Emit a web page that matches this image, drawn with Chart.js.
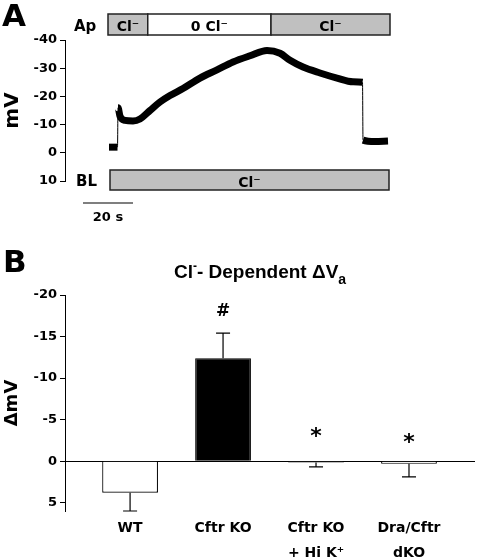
<!DOCTYPE html>
<html>
<head>
<meta charset="utf-8">
<script src="https://cdn.jsdelivr.net/npm/chart.js@4"></script>
<style>
  body { margin: 0; background: #fff; }
  #wrap { position: relative; width: 477px; height: 559px; }
  #trace { position: absolute; left: 0; top: 0; }
  #bars { position: absolute; left: 0; top: 230px; }
</style>
</head>
<body>
<div id="wrap">
  <canvas id="trace" width="477" height="230"></canvas>
  <canvas id="bars" width="477" height="329"></canvas>
</div>
<script>
// ---- panel A: voltage trace (time in s, potential in mV) ----
const traceTime = [-0.4, 3.0, 3.2, 4, 6, 9.2, 12, 16, 20, 24, 29.2, 36, 42.8, 49.2, 56, 62.8, 68, 72, 77.2, 84, 90.8, 97.2, 101, 101.2, 106, 111.2];
const traceMv   = [-2, -2, -16, -13, -11.5, -11.3, -12, -15, -18, -20.3, -22.8, -26.5, -29.4, -32.2, -34.4, -36.3, -35.3, -32.8, -30.4, -28.3, -26.5, -25.2, -25, -4.5, -4, -4.2];
const traceTicks = [-40, -30, -20, -10, 0, 10];

// solution changes (edges in s)
const apEdges  = [-0.8, 15.1, 64.4, 112];
const apLabels = ['Cl⁻', '0 Cl⁻', 'Cl⁻'];
const blEdges  = [0, 111.6];
const blLabels = ['Cl⁻'];
const scaleBarStart = -10.8;
const scaleBarSec = 20;

// ---- panel B: Cl- dependent change in Va ----
const groups   = [['WT'], ['Cftr KO'], ['Cftr KO', '+ Hi K⁺'], ['Dra/Cftr', 'dKO']];
const deltaMv  = [3.8, -12.4, 0.15, 0.3];
const deltaSem = [2.2, 3.0, 0.55, 1.6];
const sigMarks = ['', '#', '*', '*'];
const sigAt    = [null, -18.2, -3.45, -2.75];
const deltaTicks = [-20, -15, -10, -5, 0, 5];

Chart.defaults.font.family = 'DejaVu Sans';
Chart.defaults.font.weight = 'bold';
Chart.defaults.color = '#000';

function textCentered(ctx, txt, x, y) {
    const m = ctx.measureText(txt);
    ctx.fillText(txt, x, y + (m.actualBoundingBoxAscent - m.actualBoundingBoxDescent) / 2);
}

const traceExtras = {
    id: 'traceExtras',
    afterDraw(chart) {
        const ctx = chart.ctx;
        const xs = chart.scales.x;
        ctx.save();
        ctx.fillStyle = '#000';
        ctx.textBaseline = 'alphabetic';

        ctx.font = 'bold 31px "DejaVu Sans"';
        ctx.textAlign = 'left';
        ctx.fillText('A', 2, 26);

        ctx.font = 'bold 15px "DejaVu Sans"';
        ctx.fillText('Ap', 74, 31);
        ctx.fillText('BL', 76, 185.5);

        const drawBar = (edges, labels, top, bottom) => {
            for (let i = 0; i < labels.length; i++) {
                const x0 = xs.getPixelForValue(edges[i]);
                const x1 = xs.getPixelForValue(edges[i + 1]);
                ctx.fillStyle = labels[i].startsWith('0') ? '#fff' : '#c0c0c0';
                ctx.fillRect(x0, top, x1 - x0, bottom - top);
                ctx.strokeStyle = '#222';
                ctx.lineWidth = 1.5;
                ctx.strokeRect(x0, top, x1 - x0, bottom - top);
                ctx.fillStyle = '#000';
                ctx.font = 'bold 14px "DejaVu Sans"';
                ctx.textAlign = 'center';
                textCentered(ctx, labels[i], (x0 + x1) / 2, (top + bottom) / 2 + 1);
            }
        };
        drawBar(apEdges, apLabels, 14, 35);
        drawBar(blEdges, blLabels, 170, 190);

        // time scale bar
        const s0 = xs.getPixelForValue(scaleBarStart);
        const s1 = xs.getPixelForValue(scaleBarStart + scaleBarSec);
        ctx.strokeStyle = '#000';
        ctx.lineWidth = 1.2;
        ctx.beginPath();
        ctx.moveTo(s0, 203);
        ctx.lineTo(s1, 203);
        ctx.stroke();
        ctx.font = 'bold 13px "DejaVu Sans"';
        ctx.textAlign = 'center';
        textCentered(ctx, scaleBarSec + ' s', (s0 + s1) / 2, 216);
        ctx.restore();
    }
};

new Chart(document.getElementById('trace'), {
    type: 'line',
    data: {
        datasets: [{
            data: traceTime.map((t, i) => ({ x: t, y: traceMv[i] })),
            borderColor: '#000',
            borderWidth: 7,
            borderCapStyle: 'butt',
            borderJoinStyle: 'round',
            pointRadius: 0,
            cubicInterpolationMode: 'monotone',
            segment: {
                borderWidth: ctx => Math.abs(ctx.p1.parsed.y - ctx.p0.parsed.y) > 10 ? 1 : 7
            }
        }]
    },
    options: {
        responsive: false,
        animation: false,
        layout: { padding: { top: 40, bottom: 49, left: 0, right: 47 } },
        plugins: { legend: { display: false }, tooltip: { enabled: false } },
        scales: {
            x: { type: 'linear', min: -18, max: 128, display: false },
            y: {
                min: -40,
                max: 10,
                reverse: true,
                afterFit: axis => { axis.width = 65; },
                afterBuildTicks: axis => { axis.ticks = traceTicks.map(v => ({ value: v })); },
                ticks: { font: { size: 13 }, padding: 3 },
                grid: { drawOnChartArea: false, tickLength: 5, tickColor: '#000' },
                border: { color: '#000', width: 1 },
                title: { display: true, text: 'mV', font: { size: 20 }, padding: { top: 1, bottom: 0 } }
            }
        }
    },
    plugins: [traceExtras]
});

const barExtras = {
    id: 'barExtras',
    afterDraw(chart) {
        const ctx = chart.ctx;
        const xs = chart.scales.x;
        const ys = chart.scales.y;
        ctx.save();
        ctx.fillStyle = '#000';
        ctx.textBaseline = 'alphabetic';
        ctx.font = 'bold 31px "DejaVu Sans"';
        ctx.textAlign = 'left';
        ctx.fillText('B', 3, 42);

        // title with superscript and subscript
        const main = '- Dependent ΔV';
        ctx.font = 'bold 19px "Liberation Sans"';
        const w0 = ctx.measureText('Cl').width;
        const w2 = ctx.measureText(main).width;
        ctx.font = 'bold 12px "Liberation Sans"';
        const w1 = ctx.measureText('-').width;
        ctx.font = 'bold 14px "Liberation Sans"';
        const w3 = ctx.measureText('a').width;
        let x = 260 - (w0 + w1 + w2 + w3) / 2;
        ctx.font = 'bold 19px "Liberation Sans"';
        ctx.fillText('Cl', x, 48); x += w0;
        ctx.font = 'bold 12px "Liberation Sans"';
        ctx.fillText('-', x, 40); x += w1;
        ctx.font = 'bold 19px "Liberation Sans"';
        ctx.fillText(main, x, 48); x += w2;
        ctx.font = 'bold 14px "Liberation Sans"';
        ctx.fillText('a', x, 54);

        // error bars
        ctx.strokeStyle = '#000';
        ctx.lineWidth = 1.2;
        deltaMv.forEach((v, i) => {
            const cx = xs.getPixelForValue(i);
            const y0 = ys.getPixelForValue(v);
            const y1 = ys.getPixelForValue(v + Math.sign(v) * deltaSem[i]);
            ctx.beginPath();
            ctx.moveTo(cx, y0);
            ctx.lineTo(cx, y1);
            ctx.moveTo(cx - 7, y1);
            ctx.lineTo(cx + 7, y1);
            ctx.stroke();
        });

        // significance marks
        ctx.textAlign = 'center';
        sigMarks.forEach((m, i) => {
            if (!m) return;
            ctx.font = m === '*' ? 'bold 22px "DejaVu Sans"' : 'bold 17px "DejaVu Sans"';
            textCentered(ctx, m, xs.getPixelForValue(i), ys.getPixelForValue(sigAt[i]));
        });
        ctx.restore();
    }
};

new Chart(document.getElementById('bars'), {
    type: 'bar',
    data: {
        datasets: [{
            data: deltaMv.map((v, i) => ({ x: i, y: v })),
            backgroundColor: deltaMv.map(v => v < -5 ? '#000' : '#fff'),
            borderColor: '#000',
            borderWidth: 1.2,
            barPercentage: 0.6,
            categoryPercentage: 1
        }]
    },
    options: {
        responsive: false,
        animation: false,
        layout: { padding: { top: 65, bottom: 0, left: 0, right: 2 } },
        plugins: { legend: { display: false }, tooltip: { enabled: false } },
        scales: {
            x: {
                type: 'linear',
                offset: false,
                min: -0.7,
                max: 3.71,
                afterFit: axis => { axis.height = 48; },
                afterBuildTicks: axis => { axis.ticks = groups.map((g, i) => ({ value: i })); },
                ticks: {
                    callback: v => groups[v],
                    font: { size: 14, lineHeight: 1.8 },
                    padding: 5,
                    maxRotation: 0,
                    autoSkip: false
                },
                grid: { display: false, drawTicks: false, tickLength: 0 },
                border: { display: false }
            },
            y: {
                min: -20,
                max: 6,
                reverse: true,
                afterFit: axis => { axis.width = 65; },
                afterBuildTicks: axis => { axis.ticks = deltaTicks.map(v => ({ value: v })); },
                ticks: { font: { size: 13 }, padding: 3 },
                grid: {
                    color: ctx => ctx.tick && ctx.tick.value === 0 ? '#000' : 'rgba(0,0,0,0)',
                    tickColor: '#000',
                    tickLength: 5
                },
                border: { color: '#000', width: 1 },
                title: { display: true, text: 'ΔmV', font: { size: 18 }, padding: { top: 2, bottom: 0 } }
            }
        }
    },
    plugins: [barExtras]
});
</script>
</body>
</html>
